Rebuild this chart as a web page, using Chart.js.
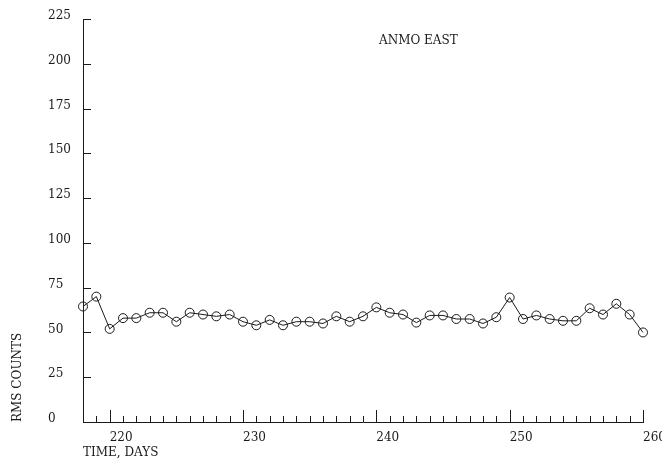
<!DOCTYPE html>
<html>
<head>
<meta charset="utf-8">
<script src="https://cdn.jsdelivr.net/npm/chart.js@4.4.1/dist/chart.umd.min.js"></script>
<style>
  html, body { margin: 0; padding: 0; background: #fff; }
  #chart { display: block; }
</style>
</head>
<body>
<canvas id="chart" width="662" height="459"></canvas>
<script>
const days = [218, 219, 220, 221, 222, 223, 224, 225, 226, 227, 228, 229, 230, 231, 232,
  233, 234, 235, 236, 237, 238, 239, 240, 241, 242, 243, 244, 245, 246, 247, 248,
  249, 250, 251, 252, 253, 254, 255, 256, 257, 258, 259, 260];
const rmsCounts = [64.5, 70, 52, 58, 58, 61, 61, 56, 61, 60, 59, 60, 56, 54, 57,
  54, 56, 56, 55, 59, 56, 59, 64, 61, 60, 55.5, 59.5, 59.5, 57.5, 57.5, 55,
  58.5, 69.5, 57.5, 59.5, 57.5, 56.5, 56.5, 63.5, 60, 66, 60, 50];
const dayLabels = [220, 230, 240, 250, 260];
const countTicks = [0, 25, 50, 75, 100, 125, 150, 175, 200, 225];

const ink = '#1a1a1a';
const serif = 'DejaVu Serif';

// tick marks point into the plot, plus the free-standing texts
const plotMarks = {
  id: 'plotMarks',
  afterDraw(chart) {
    const ctx = chart.ctx;
    const xs = chart.scales.x;
    const ys = chart.scales.y;
    const area = chart.chartArea;
    ctx.save();
    ctx.strokeStyle = ink;
    ctx.lineWidth = 1;
    ctx.beginPath();
    xs.ticks.forEach(t => {
      const px = Math.round(xs.getPixelForValue(t.value)) + 0.5;
      const len = dayLabels.includes(t.value) ? 12 : 6;
      ctx.moveTo(px, area.bottom);
      ctx.lineTo(px, area.bottom - len);
    });
    ys.ticks.forEach(t => {
      const py = Math.round(ys.getPixelForValue(t.value)) + 0.5;
      ctx.moveTo(area.left, py);
      ctx.lineTo(area.left + 8, py);
    });
    ctx.stroke();

    ctx.fillStyle = ink;
    ctx.font = '12px "' + serif + '"';
    ctx.textBaseline = 'middle';
    ctx.textAlign = 'left';
    ctx.fillText('ANMO EAST', 379, 41);

    ctx.translate(18, 422);
    ctx.rotate(-Math.PI / 2);
    ctx.fillText('RMS COUNTS', 0, 0);
    ctx.restore();
  }
};

new Chart(document.getElementById('chart'), {
  type: 'line',
  data: {
    datasets: [{
      data: days.map((d, i) => ({ x: d, y: rmsCounts[i] })),
      borderColor: ink,
      borderWidth: 1,
      pointRadius: 4.5,
      pointBorderWidth: 1,
      pointBorderColor: ink,
      pointBackgroundColor: 'rgba(0,0,0,0)',
      tension: 0,
      fill: false,
      clip: false
    }]
  },
  options: {
    responsive: false,
    animation: false,
    layout: { padding: { left: 48, top: 19, right: 19, bottom: 0 } },
    plugins: {
      legend: { display: false },
      tooltip: { enabled: false }
    },
    scales: {
      x: {
        type: 'linear',
        min: 218,
        max: 260,
        grid: { display: true, drawOnChartArea: false, drawTicks: false },
        border: { display: true, color: ink, width: 1 },
        ticks: {
          stepSize: 1,
          autoSkip: false,
          maxRotation: 0,
          align: 'start',
          padding: 9,
          color: ink,
          font: { family: serif, size: 12 },
          callback: v => dayLabels.includes(v) ? String(v) : ''
        },
        title: {
          display: true,
          text: 'TIME, DAYS',
          align: 'start',
          color: ink,
          font: { family: serif, size: 12 },
          padding: { top: 0, bottom: -1 }
        },
        afterFit(scale) {
          scale.height = 37;
          scale.paddingLeft = 0;
          scale.paddingRight = 0;
        }
      },
      y: {
        min: 0,
        max: 225,
        afterBuildTicks(scale) {
          scale.ticks = countTicks.map(v => ({ value: v }));
        },
        grid: { display: true, drawOnChartArea: false, drawTicks: false },
        border: { display: true, color: ink, width: 1 },
        ticks: {
          crossAlign: 'far',
          labelOffset: -3,
          color: ink,
          font: { family: serif, size: 12 }
        },
        afterFit(scale) {
          scale.width = 35;
          scale.paddingTop = 0;
          scale.paddingBottom = 0;
        }
      }
    }
  },
  plugins: [plotMarks]
});
</script>
</body>
</html>
